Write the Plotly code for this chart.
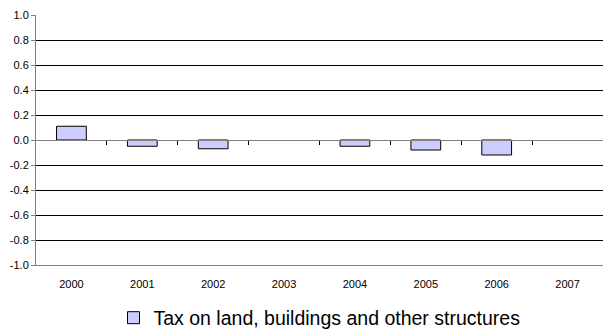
import plotly.graph_objects as go

years = ["2000", "2001", "2002", "2003", "2004", "2005", "2006", "2007"]
values = [0.11, -0.05, -0.07, None, -0.05, -0.08, -0.12, None]
series_name = "Tax on land, buildings and other structures"
y_ticks = [1.0, 0.8, 0.6, 0.4, 0.2, 0.0, -0.2, -0.4, -0.6, -0.8, -1.0]

fig = go.Figure()
fig.add_trace(go.Bar(
    x=list(range(len(years))), y=values, name=series_name,
    marker=dict(color="#CCCCFF", line=dict(color="black", width=1)),
    width=0.42, showlegend=True,
))
# invisible trace on xaxis2 to show boundary ticks on the zero line
fig.add_trace(go.Scatter(x=[-0.5, len(years) - 0.5], y=[0, 0], xaxis="x2",
                         mode="lines", line=dict(width=0), showlegend=False,
                         hoverinfo="skip"))

fig.update_layout(
    width=603, height=329,
    margin=dict(l=36, r=0, t=15, b=64, autoexpand=False),
    plot_bgcolor="white", paper_bgcolor="white",
    font=dict(family="Liberation Sans, Arial, sans-serif", color="black", size=11),
    xaxis=dict(
        range=[-0.5, len(years) - 0.5],
        tickvals=list(range(len(years))), ticktext=years,
        showline=True, linecolor="#808080", linewidth=1, mirror=False,
        ticks="", showgrid=False, zeroline=False,
        tickfont=dict(size=11), ticklabelstandoff=9,
    ),
    xaxis2=dict(
        overlaying="x", anchor="free", position=0.5, side="bottom",
        range=[-0.5, len(years) - 0.5],
        tickvals=[i + 0.5 for i in range(len(years) - 1)],
        showticklabels=False, ticks="outside", ticklen=4, tickcolor="black",
        showline=True, linecolor="#808080", linewidth=1,
        showgrid=False, zeroline=False,
    ),
    yaxis=dict(
        range=[-1.0, 1.0], tickvals=y_ticks,
        ticktext=[f"{v:.1f}" for v in y_ticks],
        showgrid=True, gridcolor="black", gridwidth=1,
        showline=True, linecolor="#808080", linewidth=1,
        ticks="outside", ticklen=4, tickcolor="#808080",
        zeroline=False, tickfont=dict(size=11),
    ),
    legend=dict(
        orientation="h", x=0.5, xanchor="center",
        yref="container", y=11 / 329, yanchor="middle",
        font=dict(size=19.5), itemwidth=30,
    ),
    bargap=0.58,
)
fig.write_html("out.html", config={"displayModeBar": False},
               post_script="document.body.style.margin='0';document.body.style.overflow='hidden';")
